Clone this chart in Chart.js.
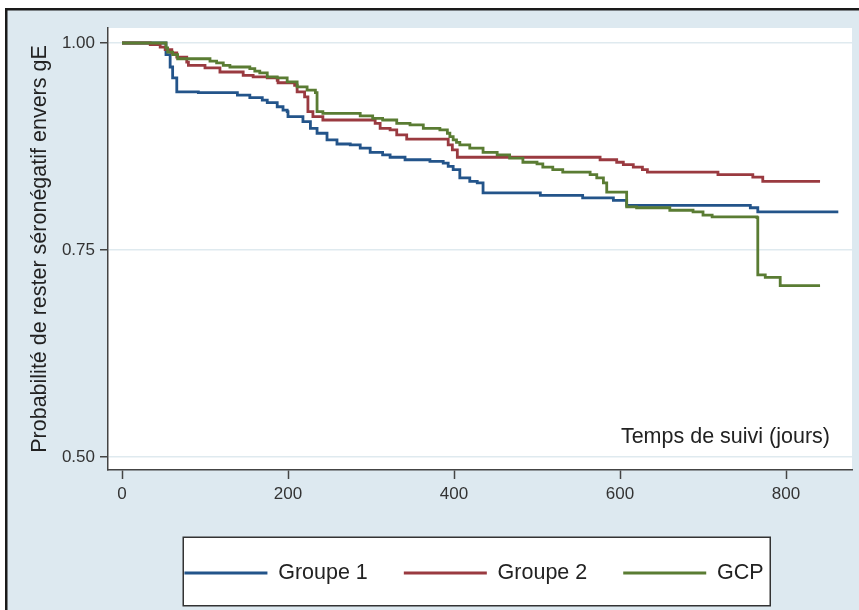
<!DOCTYPE html>
<html>
<head>
<meta charset="utf-8">
<script src="https://cdn.jsdelivr.net/npm/chart.js@4.4.1/dist/chart.umd.min.js"></script>
<style>
  html, body { margin: 0; padding: 0; background: #ffffff; }
  canvas { display: block; }
</style>
</head>
<body>
<canvas id="c" width="859" height="610"></canvas>
<script>
// ---- Data ----
const seriesNames = ["Groupe 1", "Groupe 2", "GCP"];

const g1Days = [0, 53, 58, 61, 66, 92, 139, 154, 169, 175, 187, 194, 199, 200, 218, 227, 235, 247, 259, 275, 287, 299, 314, 323, 341, 371, 387, 393, 399, 407, 419, 428, 435, 504, 555, 592, 608, 757, 766, 863];
const g1Surv = [1.000, 0.986, 0.971, 0.958, 0.941, 0.940, 0.937, 0.934, 0.931, 0.928, 0.923, 0.919, 0.917, 0.911, 0.905, 0.897, 0.891, 0.883, 0.878, 0.877, 0.873, 0.868, 0.865, 0.862, 0.859, 0.857, 0.855, 0.851, 0.847, 0.837, 0.833, 0.831, 0.819, 0.816, 0.813, 0.810, 0.804, 0.801, 0.796, 0.796];

const g2Days = [0, 34, 46, 52, 60, 66, 78, 80, 100, 118, 146, 158, 175, 187, 188, 208, 211, 220, 224, 230, 242, 305, 311, 323, 331, 343, 393, 398, 404, 576, 596, 604, 616, 627, 633, 718, 760, 772, 841];
const g2Surv = [1.000, 0.998, 0.995, 0.992, 0.988, 0.983, 0.977, 0.973, 0.970, 0.965, 0.961, 0.959, 0.958, 0.955, 0.952, 0.949, 0.941, 0.935, 0.917, 0.911, 0.907, 0.903, 0.897, 0.895, 0.889, 0.884, 0.877, 0.871, 0.862, 0.859, 0.856, 0.853, 0.850, 0.847, 0.844, 0.841, 0.838, 0.833, 0.833];

const gcpDays = [0, 53, 55, 61, 67, 106, 114, 122, 130, 154, 160, 166, 175, 187, 199, 211, 223, 233, 235, 242, 287, 302, 314, 331, 347, 363, 383, 392, 395, 399, 403, 407, 419, 435, 452, 467, 483, 500, 507, 519, 531, 564, 572, 580, 584, 608, 620, 660, 688, 700, 711, 765, 766, 775, 793, 841];
const gcpSurv = [1.000, 0.994, 0.989, 0.986, 0.981, 0.978, 0.976, 0.973, 0.971, 0.969, 0.966, 0.964, 0.959, 0.958, 0.953, 0.947, 0.943, 0.940, 0.917, 0.915, 0.912, 0.909, 0.907, 0.903, 0.901, 0.897, 0.895, 0.891, 0.887, 0.883, 0.880, 0.877, 0.873, 0.868, 0.865, 0.861, 0.856, 0.854, 0.850, 0.847, 0.844, 0.841, 0.837, 0.831, 0.820, 0.802, 0.801, 0.798, 0.796, 0.792, 0.790, 0.789, 0.720, 0.717, 0.707, 0.707];

const xTicks = [0, 200, 400, 600, 800];
const yTicks = [0.50, 0.75, 1.00];
const yTitle = "Probabilité de rester séronégatif envers gE";
const xTitle = "Temps de suivi (jours)";

// ---- Styles ----
const FONT = '"Liberation Sans", Arial, Helvetica, sans-serif';
const COLORS = ["#23548a", "#9a3a40", "#5a7c33"];
const BG_BLUE = "#dde9f0";
const GRID = "#dfeaef";
const AXIS = "#444444";
const TEXT = "#222222";

function pts(days, surv) { return days.map((d, i) => ({ x: d, y: surv[i] })); }

Chart.defaults.font.family = FONT;
Chart.defaults.color = TEXT;

const bgPlugin = {
  id: 'stataBg',
  afterLayout(chart) {
    // nudge the legend row so it sits where the reference draws it
    if (chart.legend) { chart.legend.left -= 6; chart.legend.right -= 6; }
  },
  beforeDraw(chart) {
    const ctx = chart.ctx, ca = chart.chartArea;
    const W = chart.width, H = chart.height;
    ctx.save();
    ctx.fillStyle = "#ffffff";
    ctx.fillRect(0, 0, W, H);
    ctx.fillStyle = BG_BLUE;
    ctx.fillRect(6, 9, W - 6, H - 9);
    ctx.strokeStyle = "#1a1a1a";
    ctx.lineWidth = 2.5;
    ctx.beginPath();
    ctx.moveTo(6.25, H); ctx.lineTo(6.25, 9.25); ctx.lineTo(W, 9.25);
    ctx.stroke();
    ctx.fillStyle = "#ffffff";
    ctx.fillRect(ca.left, ca.top, ca.right - ca.left, ca.bottom - ca.top);
    // legend frame
    ctx.fillStyle = "#ffffff";
    ctx.fillRect(183, 537, 587, 69);
    ctx.strokeStyle = "#333333";
    ctx.lineWidth = 1.5;
    ctx.strokeRect(183.25, 537.25, 587, 68.5);
    ctx.restore();
  },
  afterDraw(chart) {
    const ctx = chart.ctx;
    ctx.save();
    ctx.font = '21.5px ' + FONT;
    ctx.fillStyle = TEXT;
    ctx.textAlign = 'right';
    ctx.textBaseline = 'alphabetic';
    ctx.fillText(xTitle, 830, 443);
    ctx.restore();
  }
};

const datasets = [
  { label: seriesNames[0], data: pts(g1Days, g1Surv), borderColor: COLORS[0], order: 3 },
  { label: seriesNames[1], data: pts(g2Days, g2Surv), borderColor: COLORS[1], order: 2 },
  { label: seriesNames[2], data: pts(gcpDays, gcpSurv), borderColor: COLORS[2], order: 1 }
].map(d => Object.assign(d, {
  backgroundColor: d.borderColor,
  borderWidth: 2.8,
  stepped: true,
  pointRadius: 0,
  pointHoverRadius: 0,
  fill: false,
  borderJoinStyle: 'miter',
  borderCapStyle: 'butt'
}));

new Chart(document.getElementById('c'), {
  type: 'line',
  data: { datasets },
  plugins: [bgPlugin],
  options: {
    responsive: false,
    animation: false,
    events: [],
    layout: { padding: { left: 0, top: 28, right: 7, bottom: 16.25 } },
    plugins: {
      tooltip: { enabled: false },
      title: { display: false },
      legend: {
        display: true,
        position: 'bottom',
        fullSize: false,
        labels: {
          usePointStyle: true,
          pointStyle: 'line',
          pointStyleWidth: 83,
          padding: 36,
          color: TEXT,
          font: { size: 21.5, family: FONT },
          sort: (a, b) => a.datasetIndex - b.datasetIndex
        }
      }
    },
    scales: {
      x: {
        type: 'linear',
        min: -16.87,
        max: 879.5,
        afterFit: (s) => { s.height = 56.25; },
        afterBuildTicks: (s) => { s.ticks = xTicks.map(v => ({ value: v })); },
        ticks: {
          color: '#333333',
          font: { size: 17 },
          padding: 5,
          maxRotation: 0,
          autoSkip: false,
          callback: (v) => String(v)
        },
        grid: {
          drawOnChartArea: false,
          drawTicks: true,
          tickLength: 9,
          tickColor: AXIS,
          tickWidth: 1.5
        },
        border: { display: true, color: AXIS, width: 1.5 },
        title: { display: false }
      },
      y: {
        type: 'linear',
        min: 0.5 - 13 / 828,
        max: 1 + 15 / 828,
        afterFit: (s) => { s.width = 108; },
        afterBuildTicks: (s) => { s.ticks = yTicks.map(v => ({ value: v })); },
        ticks: {
          color: '#333333',
          font: { size: 17 },
          padding: 5,
          autoSkip: false,
          callback: (v) => Number(v).toFixed(2)
        },
        grid: {
          color: GRID,
          lineWidth: 1.5,
          drawTicks: true,
          tickLength: 8,
          tickColor: AXIS,
          tickWidth: 1.5
        },
        border: { display: true, color: AXIS, width: 1.5 },
        title: {
          display: true,
          text: yTitle,
          color: TEXT,
          font: { size: 21.5 },
          padding: { top: 27, bottom: 0 }
        }
      }
    }
  }
});
</script>
</body>
</html>
